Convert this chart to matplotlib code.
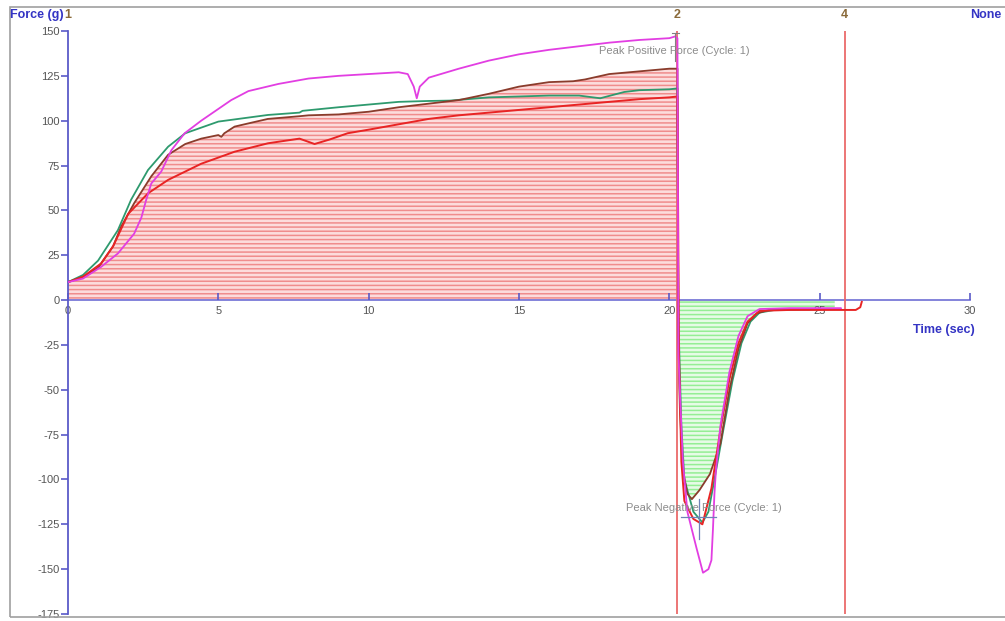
import matplotlib
matplotlib.use("Agg")
import matplotlib.pyplot as plt
import numpy as np
from matplotlib.patches import Rectangle

plt.rcParams['font.family'] = ['Liberation Sans', 'DejaVu Sans']
plt.rcParams['hatch.linewidth'] = 1.1

# ---------------- data (time in s, force in g) ----------------
brown_t = [0, 0.5, 1, 1.5, 1.77, 2.2, 2.77, 3.33, 3.9, 4.43, 5.0, 5.1, 5.2, 5.54, 6.0, 6.65, 7.0, 7.7,
           8, 9, 10, 11, 12, 13, 14, 15, 16, 16.8, 17.2, 18, 19, 20, 20.27,
           20.3, 20.35, 20.45, 20.6, 20.75, 21.0, 21.35, 21.7, 22.0, 22.3, 22.6, 22.9, 23.3, 24.5, 25.5]
brown_f = [10, 13, 18, 30, 41, 54, 69, 81, 87, 90, 92, 91, 93, 96.7, 98.5, 101, 101.5, 102.5,
           103, 103.5, 105, 107.5, 109.5, 111.5, 115, 119, 121.5, 122, 123, 126, 127.5, 129, 129,
           -20, -60, -95, -108, -111, -106, -97, -80, -50, -27, -13, -7.5, -5.5, -5, -5]

green_t = [0, 0.5, 1, 1.66, 2.1, 2.66, 3.33, 3.9, 5.0, 6.65, 7.7, 7.8, 9, 10, 11, 12, 12.7, 14, 15, 16,
           17, 17.7, 18.5, 19, 20, 20.27,
           20.3, 20.4, 20.5, 20.8, 21.1, 21.3, 21.5, 21.8, 22.1, 22.4, 22.7, 23.0, 23.5, 25.7]
green_f = [10, 14, 22, 39, 56, 72.5, 85.5, 93, 99.5, 103.2, 104.5, 105.5, 107.5, 109, 110.5, 111, 111.2,
           113, 113.5, 114, 114, 112.5, 116, 117, 117.5, 118,
           -10, -70, -100, -118, -124, -118, -100, -72, -45, -24, -12, -7, -5.5, -5]

red_t = [0, 0.5, 1.1, 1.5, 2.0, 2.66, 3.33, 4.43, 5.54, 6.65, 7.7, 8.2, 8.7, 9.3, 10, 11, 12, 13, 14,
         15, 16, 17, 18, 19, 20, 20.27,
         20.32, 20.4, 20.5, 20.8, 21.1, 21.4, 21.7, 22.0, 22.3, 22.6, 23.0, 24, 25, 26.2, 26.35, 26.4]
red_f = [10, 13, 20.4, 30, 48, 59.5, 67, 76, 82.7, 87.4, 90, 87, 89.5, 93, 95, 98, 101, 103, 104.5,
         106, 107.5, 109, 110.5, 112, 113, 113.5,
         -30, -90, -112, -122, -125, -105, -72, -44, -24, -12, -6, -5.5, -5.5, -5.5, -4, -1]

magenta_t = [0, 0.5, 1.1, 1.66, 2.2, 2.44, 2.6, 2.77, 3.1, 3.44, 3.88, 4.43, 5.43, 6, 7, 8, 9, 10, 11,
             11.3, 11.5, 11.6, 11.7, 12, 12.5, 13, 14, 15, 16, 17, 18, 19, 20, 20.2, 20.27,
             20.3, 20.45, 20.6, 20.9, 21.12, 21.3, 21.4, 21.45, 21.5, 21.55, 21.7, 22.0, 22.3, 22.6,
             23.0, 24, 25.7]
magenta_f = [10, 12, 18.5, 26, 37, 46, 55.8, 65, 71.6, 83.6, 93, 100, 111.5, 116.5, 120.5, 123.5, 125,
             126, 127, 126, 119, 112.5, 119, 124, 126.5, 129, 133.5, 137, 139.5, 141.5, 143.5, 145,
             146, 147, 146,
             -30, -90, -118, -138, -152, -150, -145, -128, -108, -95, -70, -40, -20, -9,
             -5, -4.5, -4.5]

marker_times = [20.27, 25.83]
marker_labels = ['2', '4']
peak_pos = (20.2, 147)
peak_neg = (21.0, -121)

x_ticks = [0, 5, 10, 15, 20, 25, 30]
y_ticks = [-175, -150, -125, -100, -75, -50, -25, 0, 25, 50, 75, 100, 125, 150]

# ---------------- figure ----------------
W, H = 1005, 621
fig = plt.figure(figsize=(W / 100, H / 100), dpi=100)
fig.patch.set_facecolor('white')
ax = fig.add_axes([68 / W, 7 / H, 902 / W, 583 / H])
ax.set_xlim(0, 30)
ax.set_ylim(-175, 150)

axis_blue = '#5a5ac8'
for s in ['top', 'right']:
    ax.spines[s].set_visible(False)
ax.spines['left'].set_color(axis_blue)
ax.spines['left'].set_linewidth(1.3)
ax.spines['bottom'].set_position(('data', 0))
ax.spines['bottom'].set_color('#7a7ad8')
ax.spines['bottom'].set_linewidth(1.3)
ax.spines['bottom'].set_zorder(1)

ax.set_xticks(x_ticks)
ax.set_yticks(y_ticks)
ax.set_xticklabels([str(v) for v in x_ticks])
ax.set_yticklabels([str(v) for v in y_ticks])
ax.tick_params(axis='y', direction='out', length=5, width=1.2, color=axis_blue,
               labelsize=8, labelcolor='#555555', pad=1)
ax.tick_params(axis='x', direction='in', length=5, width=1.2, color=axis_blue,
               labelsize=8, labelcolor='#555555', pad=4)

# fills under brown curve
bt = np.array(brown_t)
bf = np.array(brown_f)
ax.fill_between(bt, 0, bf, where=bf >= 0, interpolate=True, facecolor='#fcdcdc',
                edgecolor='#f08c8c', hatch='----', linewidth=0, zorder=1)
ax.fill_between(bt, 0, bf, where=bf <= 0, interpolate=True, facecolor='#e6fbe6',
                edgecolor='#94ee94', hatch='----', linewidth=0, zorder=1)

# vertical cursor lines
for xt in marker_times:
    ax.axvline(xt, color='#ea6a6a', lw=1.3, zorder=2)

# curves
ax.plot(green_t, green_f, color='#2e9a6e', lw=1.3, zorder=3)
ax.plot(brown_t, brown_f, color='#8a3c2c', lw=1.3, zorder=4)
ax.plot(red_t, red_f, color='#e82424', lw=1.4, zorder=5)
ax.plot(magenta_t, magenta_f, color='#e23ee2', lw=1.3, zorder=6)

# peak markers
ax.plot([peak_pos[0], peak_pos[0]], [peak_pos[1] + 2, peak_pos[1] - 14], color='#808080', lw=0.8, zorder=7)
ax.plot([peak_pos[0] - 0.12, peak_pos[0] + 0.12], [peak_pos[1] + 2, peak_pos[1] + 2], color='#808080', lw=0.8, zorder=7)
ax.plot([peak_neg[0] - 0.6, peak_neg[0] + 0.55], [peak_neg[1], peak_neg[1]], color='#6f82b8', lw=0.9, zorder=7)
ax.plot([peak_neg[0], peak_neg[0]], [peak_neg[1] + 10, peak_neg[1] - 12], color='#6f82b8', lw=0.9, zorder=7)
ax.text(20.15, 139, 'Peak Positive Force (Cycle: 1)', color='#8c8c8c', fontsize=8,
        ha='center', va='center', zorder=8)
ax.text(21.15, -116, 'Peak Negative Force (Cycle: 1)', color='#8c8c8c', fontsize=8,
        ha='center', va='center', zorder=8)


def px(x, y):
    return x / W, 1 - y / H


# header / labels
fig.text(*px(10, 15), 'Force (g)', color='#3434c4', fontsize=9, fontweight='bold', ha='left', va='center')
fig.text(*px(64, 15), '1', color='#8a6a3a', fontsize=9, fontweight='bold', ha='left', va='center')
fig.text(*px(1001, 15), 'None', color='#3434c4', fontsize=9, fontweight='bold', ha='right', va='center')
fig.text(*px(975, 330), 'Time (sec)', color='#3434c4', fontsize=9, fontweight='bold', ha='right', va='center')
for xt, lab in zip(marker_times, marker_labels):
    xpix = 68 + xt / 30 * 902
    fig.text(*px(xpix, 15), lab, color='#8a6a3a', fontsize=9, fontweight='bold', ha='center', va='center')

# outer frame
fig.add_artist(Rectangle((10 / W, 4 / H), 1.0, 1 - 11 / H, transform=fig.transFigure,
                         fill=False, edgecolor='#a0a0a0', lw=1.2))

fig.savefig('out.png', dpi=100)
